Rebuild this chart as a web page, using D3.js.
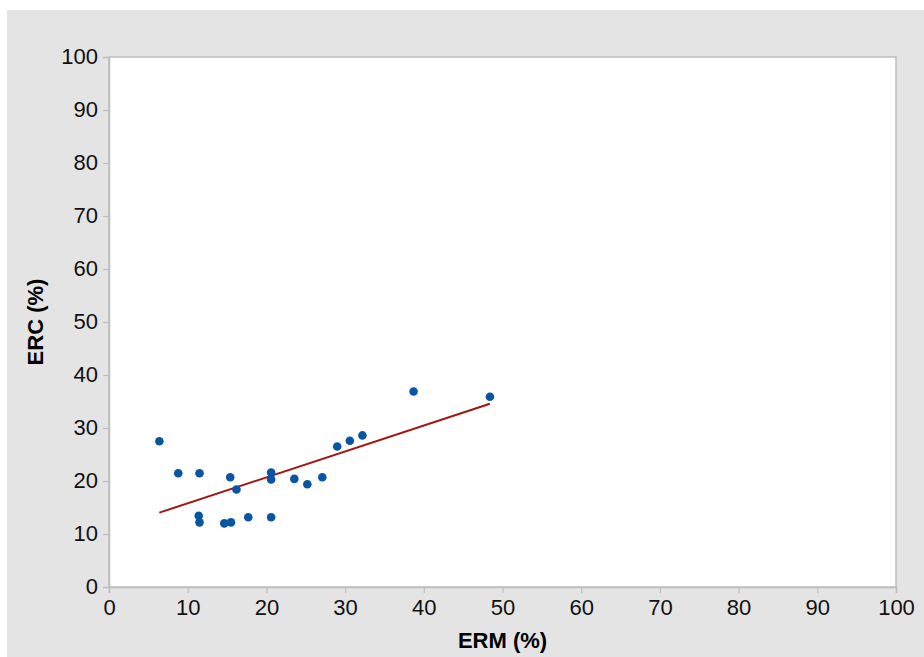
<!DOCTYPE html>
<html>
<head>
<meta charset="utf-8">
<script src="https://cdn.jsdelivr.net/npm/d3@7"></script>
<style>
  body { margin: 0; background: #ffffff; }
  svg { display: block; }
</style>
</head>
<body>
<script>
'use strict';

// data
const erm = [6.4, 8.8, 11.5, 11.4, 11.5, 15.4, 16.2, 14.65, 15.5, 17.7, 20.6,
             20.6, 20.6, 23.55, 25.2, 27.1, 29.0, 30.6, 32.2, 38.7, 48.4];
const erc = [27.5, 21.45, 21.45, 13.45, 12.2, 20.7, 18.4, 12.0, 12.2, 13.15, 21.6,
             20.3, 13.15, 20.4, 19.4, 20.7, 26.5, 27.6, 28.6, 36.9, 35.9];
// linear trend line: erc = intercept + slope * erm
const trendIntercept = 10.9;
const trendSlope = 0.489;
const xTicks = [0, 10, 20, 30, 40, 50, 60, 70, 80, 90, 100];
const yTicks = [0, 10, 20, 30, 40, 50, 60, 70, 80, 90, 100];

const width = 924, height = 657;
const plot = { left: 109, right: 896, top: 57, bottom: 587 };

let svg = d3.select('body')
  .append('svg')
  .attr('width', width)
  .attr('height', height)
  .style('font-family', 'Liberation Sans, Arial, sans-serif');

// grey background
svg.append('rect')
  .attr('x', 7).attr('y', 10)
  .attr('width', width - 7).attr('height', height - 10)
  .attr('fill', '#e4e4e4');

// white plot area
svg.append('rect')
  .attr('x', plot.left).attr('y', plot.top)
  .attr('width', plot.right - plot.left).attr('height', plot.bottom - plot.top)
  .attr('fill', '#ffffff')
  .attr('stroke', '#bdbdbd')
  .attr('stroke-width', 1.5);

let xScale = d3.scaleLinear().domain([0, 100]).range([plot.left, plot.right]);
let yScale = d3.scaleLinear().domain([0, 100]).range([plot.bottom, plot.top]);

// axes
let xAxis = d3.axisBottom(xScale).tickValues(xTicks).tickSize(6).tickPadding(6);
let gx = svg.append('g')
  .attr('transform', 'translate(0,' + plot.bottom + ')')
  .call(xAxis);

let yAxis = d3.axisLeft(yScale).tickValues(yTicks).tickSize(6).tickPadding(5);
let gy = svg.append('g')
  .attr('transform', 'translate(' + plot.left + ',0)')
  .call(yAxis);

[gx, gy].forEach(g => {
  g.select('.domain').attr('stroke', '#bdbdbd').attr('stroke-width', 1.5);
  g.selectAll('.tick line').attr('stroke', '#bdbdbd').attr('stroke-width', 1.2);
  g.selectAll('.tick text')
    .attr('fill', '#111111')
    .style('font-size', '22px')
    .style('font-family', 'Liberation Sans, Arial, sans-serif');
});
gy.selectAll('.tick text').attr('dy', '0.28em');

// trend line
let xExt = d3.extent(erm);
svg.append('line')
  .attr('x1', xScale(xExt[0]))
  .attr('y1', yScale(trendIntercept + trendSlope * xExt[0]))
  .attr('x2', xScale(xExt[1]))
  .attr('y2', yScale(trendIntercept + trendSlope * xExt[1]))
  .attr('stroke', '#a31515')
  .attr('stroke-width', 2);

// points
svg.selectAll('.dot')
  .data(d3.range(erm.length))
  .enter()
  .append('circle')
  .attr('class', 'dot')
  .attr('cx', i => xScale(erm[i]))
  .attr('cy', i => yScale(erc[i]))
  .attr('r', 4.3)
  .attr('fill', '#0a55a3');

// axis titles
svg.append('text')
  .attr('x', (plot.left + plot.right) / 2)
  .attr('y', 648)
  .attr('text-anchor', 'middle')
  .style('font-size', '22px')
  .style('font-weight', 'bold')
  .attr('fill', '#000000')
  .text('ERM (%)');

svg.append('text')
  .attr('transform', 'translate(43,' + (plot.top + plot.bottom) / 2 + ')rotate(-90)')
  .attr('text-anchor', 'middle')
  .style('font-size', '22px')
  .style('font-weight', 'bold')
  .attr('fill', '#000000')
  .text('ERC (%)');
</script>
</body>
</html>
